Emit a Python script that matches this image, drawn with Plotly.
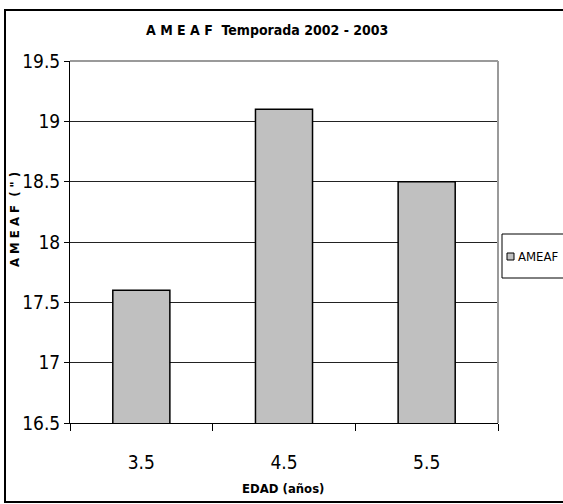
import plotly.graph_objects as go

edad = ["3.5", "4.5", "5.5"]
ameaf = [17.6, 19.1, 18.5]
y_ticks = [16.5, 17, 17.5, 18, 18.5, 19, 19.5]
series_name = "AMEAF"

W, H = 563, 504
L, R, T, B = 70, 65, 61, 81
pw, ph = W - L - R, H - T - B

def px(x):
    return (x - L) / pw

def py(y):
    return (H - B - y) / ph

NARROW = "Liberation Sans Narrow, Arial Narrow, DejaVu Sans Condensed, Roboto Condensed, Liberation Sans, Arial, sans-serif"

fig = go.Figure()
fig.add_trace(go.Bar(
    x=edad, y=ameaf, name=series_name,
    marker=dict(color="#C0C0C0", line=dict(color="black", width=1.5)),
    showlegend=False,
))

fig.update_layout(
    width=W, height=H,
    margin=dict(l=L, r=R, t=T, b=B, autoexpand=False),
    paper_bgcolor="white", plot_bgcolor="white",
    bargap=0.6,
    xaxis=dict(
        type="category", tickson="boundaries", ticks="outside", ticklen=7,
        tickcolor="black", showline=True, linecolor="black", linewidth=1,
        showgrid=False, mirror=False, ticklabelstandoff=22,
        tickfont=dict(family=NARROW, size=19, color="black"),
    ),
    yaxis=dict(
        range=[16.5, 19.5], tickvals=y_ticks,
        ticktext=[f"{v:g}" for v in y_ticks],
        ticks="outside", ticklen=5, tickcolor="black",
        showline=True, linecolor="black", linewidth=1,
        showgrid=True, gridcolor="#222222", gridwidth=1,
        zeroline=False,
        tickfont=dict(family=NARROW, size=19, color="black"),
    ),
    font=dict(family=NARROW, color="black"),
)

# plot area border (top and right in gray)
fig.add_shape(type="line", xref="paper", yref="paper", x0=0, x1=1, y0=1, y1=1,
              line=dict(color="#9a9a9a", width=2))
fig.add_shape(type="line", xref="paper", yref="paper", x0=1, x1=1, y0=0, y1=1,
              line=dict(color="#9a9a9a", width=2))

# outer chart border
fig.add_shape(type="rect", xref="paper", yref="paper",
              x0=px(5), x1=px(570), y0=py(502), y1=py(10),
              line=dict(color="black", width=2), layer="below")

# legend box (drawn by hand to match the original's compact legend)
fig.add_shape(type="rect", xref="paper", yref="paper",
              x0=px(502), x1=px(572), y0=py(278), y1=py(234),
              line=dict(color="black", width=1), fillcolor="white")
fig.add_shape(type="rect", xref="paper", yref="paper",
              x0=px(507), x1=px(514), y0=py(260), y1=py(253),
              line=dict(color="black", width=1), fillcolor="#C0C0C0")
fig.add_annotation(
    text=series_name, xref="paper", yref="paper",
    x=px(516), y=py(256), showarrow=False, xanchor="left", yanchor="middle",
    font=dict(family=NARROW, size=13, color="black"),
)

fig.add_annotation(
    text="<b>A M E A F  Temporada 2002 - 2003</b>", xref="paper", yref="paper",
    x=px(267), y=py(30), showarrow=False, xanchor="center", yanchor="middle",
    font=dict(family=NARROW, size=14, color="black"),
)
fig.add_annotation(
    text="<b>A M E A F  ( \" )</b>", xref="paper", yref="paper",
    x=px(14), y=py(220), showarrow=False, textangle=-90,
    xanchor="center", yanchor="middle",
    font=dict(family=NARROW, size=13, color="black"),
)
fig.add_annotation(
    text="<b>EDAD (años)</b>", xref="paper", yref="paper",
    x=px(283), y=py(488), showarrow=False, xanchor="center", yanchor="middle",
    font=dict(family=NARROW, size=13, color="black"),
)

fig.write_html("out.html")
